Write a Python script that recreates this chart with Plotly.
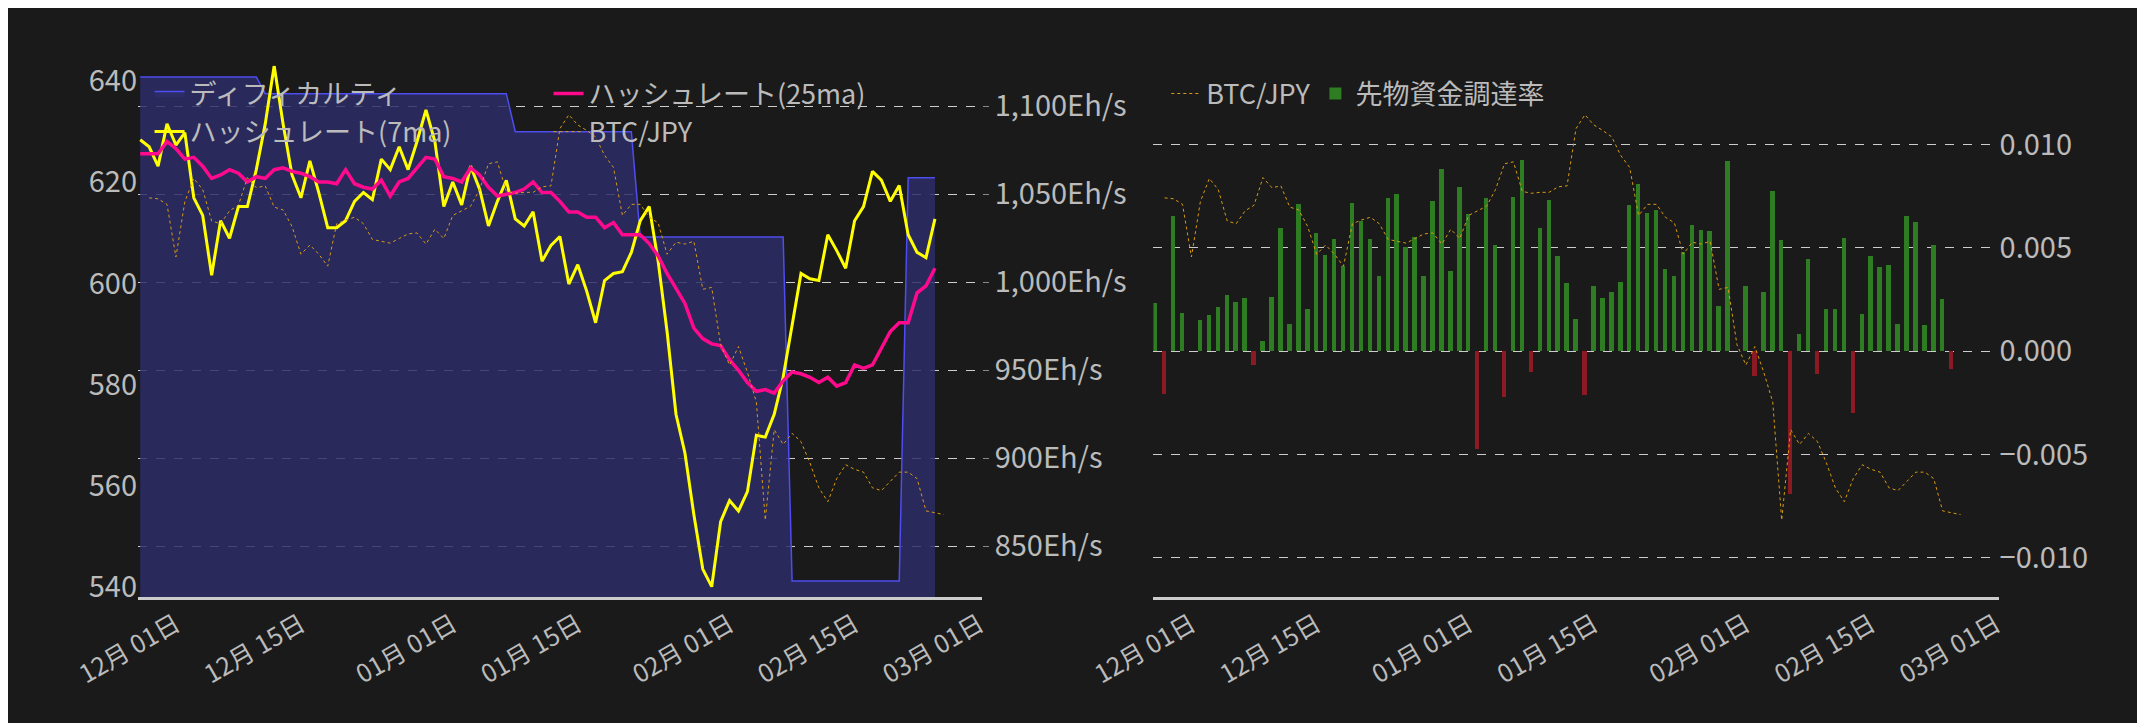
import pandas as pd
import plotly.graph_objects as go

# daily data, 2024-11-27 onwards
start = "2024-11-27"

difficulty = [640.8] * 14 + [637.5] * 28 + [630.0] * 14 + [609.2] * 17 + [541.2] * 13 + [620.9] * 4

hashrate_7ma = [1081, 1077, 1066, 1090, 1078, 1085, 1048, 1038, 1004, 1035,
                1025, 1043, 1043, 1064, 1090, 1123, 1090, 1061, 1048, 1069,
                1051, 1031, 1031, 1035, 1046, 1051, 1047, 1070, 1064, 1077,
                1064, 1080, 1098, 1080, 1043, 1057, 1044, 1066, 1053, 1032,
                1046, 1058, 1036, 1032, 1040, 1012, 1021, 1026, 999, 1010,
                995, 977, 1001, 1005, 1006, 1017, 1035, 1043, 1012, 972,
                925, 903, 868, 837, 827, 864, 876, 870, 881, 913,
                912, 925, 946, 975, 1005, 1002, 1001, 1027, 1018, 1008,
                1035, 1043, 1063, 1058, 1046, 1055, 1027, 1017, 1014, 1036]

hashrate_25ma = [1073, 1073, 1073, 1080, 1076, 1070, 1071, 1066, 1059, 1061,
                 1064, 1062, 1057, 1060, 1059, 1064, 1065, 1063, 1062, 1060,
                 1057, 1057, 1056, 1064, 1056, 1054, 1053, 1058, 1049, 1057,
                 1059, 1065, 1071, 1070, 1060, 1059, 1057, 1065, 1061, 1054,
                 1049, 1050, 1051, 1053, 1057, 1051, 1051, 1046, 1040, 1040,
                 1037, 1037, 1031, 1034, 1027, 1027, 1027, 1022, 1015, 1005,
                 996, 988, 974, 968, 965, 964, 956, 950, 943, 938,
                 939, 937, 944, 949, 948, 946, 943, 946, 941, 943,
                 953, 951, 953, 963, 972, 977, 977, 994, 998, 1008]

# BTC/JPY in 10k yen, starts 2024-11-28
btc_jpy = [1559, 1558, 1552, 1495, 1555, 1580, 1568, 1534, 1531, 1545,
           1551, 1581, 1570, 1572, 1549, 1546, 1528, 1498, 1508, 1498,
           1485, 1531, 1535, 1538, 1531, 1514, 1512, 1510, 1515, 1520,
           1521, 1509, 1525, 1515, 1540, 1545, 1550, 1568, 1596, 1598,
           1566, 1564, 1565, 1565, 1571, 1572, 1634, 1649, 1638, 1632,
           1625, 1605, 1592, 1540, 1552, 1552, 1538, 1532, 1498, 1511,
           1509, 1512, 1460, 1462, 1400, 1378, 1398, 1370, 1338, 1210,
           1308, 1292, 1304, 1295, 1272, 1245, 1230, 1255, 1270, 1265,
           1262, 1245, 1242, 1252, 1262, 1262, 1255, 1220, 1218, 1216]

funding_rate = [0.00233, -0.00204, 0.00655, 0.00186, 0.0, 0.0015, 0.00175, 0.00215, 0.00273, 0.0024,
                0.00257, -0.00065, 0.00049, 0.00262, 0.00597, 0.00132, 0.00714, 0.00204, 0.00573, 0.00465,
                0.00544, 0.00412, 0.00718, 0.00629, 0.00544, 0.00365, 0.0074, 0.00763, 0.00506, 0.00553,
                0.00365, 0.00727, 0.00884, 0.00389, 0.00796, 0.00664, -0.00472, 0.00743, 0.00515, -0.00221,
                0.00745, 0.00926, -0.00098, 0.00597, 0.00734, 0.00461, 0.00331, 0.00157, -0.0021, 0.00315,
                0.00257, 0.00286, 0.00336, 0.00709, 0.0081, 0.00669, 0.00685, 0.00398, 0.00365, 0.00479,
                0.00611, 0.00588, 0.00582, 0.00219, 0.00922, 0.0, 0.00315, -0.00119, 0.00286, 0.00776,
                0.00539, -0.00691, 0.00085, 0.00447, -0.0011, 0.00204, 0.00204, 0.00548, -0.00298, 0.00181,
                0.00461, 0.00409, 0.00418, 0.00132, 0.00653, 0.00624, 0.00128, 0.00512, 0.00255, -0.00083]

tick_dates = ["2024-12-01", "2024-12-15", "2025-01-01", "2025-01-15",
              "2025-02-01", "2025-02-15", "2025-03-01"]

days = pd.date_range(start, periods=90, freq="D")
btc_days = pd.date_range("2024-11-28", periods=len(btc_jpy), freq="D")

GREY = "#bbbbbb"
GRID = "#cccccc"
BG = "#1a1a1a"
FONT = "Noto Sans CJK JP"
x_range = ["2024-11-26 18:00", "2025-03-01 06:00"]

fig = go.Figure()

# left chart
fig.add_trace(go.Scatter(x=days, y=difficulty, name="ディフィカルティ", yaxis="y",
                         line=dict(color="#4d4df0", width=1.5), fill="tozeroy",
                         fillcolor="rgba(45,45,105,0.85)", legend="legend"))
fig.add_trace(go.Scatter(x=days, y=hashrate_7ma, name="ハッシュレート(7ma)", yaxis="y2",
                         line=dict(color="#ffff00", width=3), legend="legend"))
fig.add_trace(go.Scatter(x=days, y=hashrate_25ma, name="ハッシュレート(25ma)", yaxis="y2",
                         line=dict(color="#ff0a8c", width=3.5), legend="legend3"))
fig.add_trace(go.Scatter(x=btc_days, y=btc_jpy, name="BTC/JPY", yaxis="y3",
                         line=dict(color="#d99a12", width=1, dash="dot"), legend="legend3"))

# right chart
fig.add_trace(go.Scatter(x=btc_days, y=btc_jpy, name="BTC/JPY", xaxis="x2", yaxis="y5",
                         line=dict(color="#d99a12", width=1, dash="dot"), legend="legend2"))
fig.add_trace(go.Bar(x=days, y=funding_rate, name="先物資金調達率", xaxis="x2", yaxis="y4",
                     marker=dict(color=["#2e7d22" if v >= 0 else "#8b1a22" for v in funding_rate],
                                 line=dict(width=0)),
                     width=0.5 * 86400000, legend="legend2"))

xcommon = dict(type="date", range=x_range, tickvals=tick_dates, tickformat="%m月 %d日",
               tickangle=-30, tickfont=dict(size=25, color=GREY), showgrid=False,
               showline=True, linecolor=GRID, linewidth=3, zeroline=False, ticks="",
               automargin=False)
bigfont = dict(size=29, color=GREY)
legfont = dict(size=27, color=GREY)

fig.update_layout(
    width=2145, height=723,
    paper_bgcolor=BG, plot_bgcolor=BG,
    font=dict(family=FONT, color=GREY),
    margin=dict(l=0, r=0, t=0, b=0, autoexpand=False),
    showlegend=True, bargap=0,
    xaxis=dict(domain=[0.0606, 0.454], anchor="y", **xcommon),
    xaxis2=dict(domain=[0.534, 0.928], anchor="y4", **xcommon),
    yaxis=dict(range=[538, 643], tickvals=[540, 560, 580, 600, 620, 640], ticksuffix="Z",
               tickfont=bigfont, showgrid=False, zeroline=False, domain=[0.185, 0.92],
               automargin=False),
    yaxis2=dict(range=[821, 1123], dtick=50, tickformat=",", ticksuffix="Eh/s", side="right",
                overlaying="y", anchor="x", tickfont=bigfont, showgrid=True, gridcolor=GRID,
                griddash="dash", gridwidth=1, zeroline=False, ticks="outside", ticklen=6,
                tickcolor="#888888", automargin=False),
    yaxis3=dict(range=[1126.5, 1702], overlaying="y", visible=False),
    yaxis4=dict(range=[-0.0119, 0.0138], tickvals=[-0.01, -0.005, 0, 0.005, 0.01],
                tickformat=".3f", side="right", anchor="x2", domain=[0.185, 0.92],
                tickfont=bigfont, showgrid=True, gridcolor=GRID, griddash="dash",
                gridwidth=1, zeroline=False, automargin=False),
    yaxis5=dict(range=[1126.5, 1702], overlaying="y4", anchor="x2", visible=False),
    legend=dict(x=0.066, y=0.915, xanchor="left", yanchor="top", orientation="v",
                bgcolor="rgba(0,0,0,0)", font=legfont, tracegroupgap=0),
    legend3=dict(x=0.252, y=0.915, xanchor="left", yanchor="top", orientation="v",
                 bgcolor="rgba(0,0,0,0)", font=legfont, tracegroupgap=0),
    legend2=dict(x=0.54, y=0.915, xanchor="left", yanchor="top", orientation="h",
                 bgcolor="rgba(0,0,0,0)", font=legfont),
)

fig.write_html("out.html")
